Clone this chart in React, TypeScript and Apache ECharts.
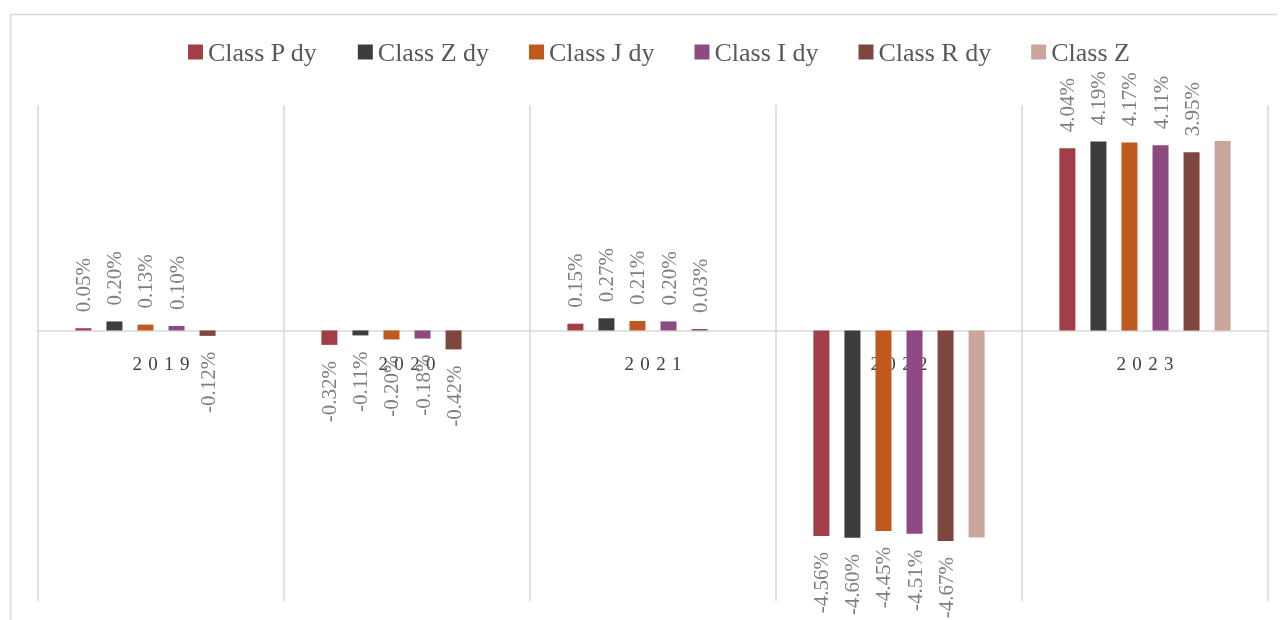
import React, { useEffect, useRef } from 'react';
import * as echarts from 'echarts';

const years = ['2019', '2020', '2021', '2022', '2023'];
const seriesNames = ['Class P dy', 'Class Z dy', 'Class J dy', 'Class I dy', 'Class R dy', 'Class Z'];
const classPdy = [0.05, -0.32, 0.15, -4.56, 4.04];
const classZdy = [0.2, -0.11, 0.27, -4.6, 4.19];
const classJdy = [0.13, -0.2, 0.21, -4.45, 4.17];
const classIdy = [0.1, -0.18, 0.2, -4.51, 4.11];
const classRdy = [-0.12, -0.42, 0.03, -4.67, 3.95];
const classZ: (number | null)[] = [null, null, null, -4.59, 4.2];
const showLabels = [true, true, true, true, true, false];

const colors = ['#A23E48', '#3D3D3D', '#BE5A1D', '#8C4A80', '#7E463E', '#C9A59C'];
const FONT = "'Liberation Serif', 'DejaVu Serif', serif";

const Y_MIN = -6;
const Y_MAX = 5;
const GRID_TOP = 97;
const GRID_BOTTOM = 19;
const H = 612;

export default function App() {
  const ref = useRef<HTMLDivElement>(null);
  useEffect(() => {
    if (!ref.current) return;
    const chart = echarts.init(ref.current, undefined, { renderer: 'svg' });
    const all = [classPdy, classZdy, classJdy, classIdy, classRdy, classZ];
    const gridH = H - GRID_TOP - GRID_BOTTOM;
    const zeroFromBottom = (gridH * (0 - Y_MIN)) / (Y_MAX - Y_MIN);
    const series = all.map((vals, i) => ({
      name: seriesNames[i],
      type: 'bar',
      barWidth: 16,
      barGap: '94%',
      itemStyle: { color: colors[i] },
      data: vals.map((v) =>
        v === null
          ? null
          : {
              value: v,
              label: {
                show: showLabels[i],
                position: v >= 0 ? 'top' : 'bottom',
                align: v >= 0 ? 'left' : 'right',
                verticalAlign: 'middle',
                rotate: 90,
                distance: 16,
                fontFamily: FONT,
                fontSize: 21,
                color: '#7f7f7f',
                formatter: (p: any) => Number(p.value).toFixed(2) + '%',
              },
            }
      ),
    }));
    chart.setOption({
      animation: false,
      color: colors,
      graphic: [
        {
          type: 'rect',
          left: 0,
          top: 4,
          shape: { width: 1400, height: 700 },
          style: { fill: 'none', stroke: '#d9d9d9', lineWidth: 1.5 },
          z: -10,
        },
      ],
      legend: {
        top: 31,
        left: 180,
        padding: 0,
        itemWidth: 15,
        itemHeight: 15,
        itemGap: 40,
        icon: 'rect',
        data: seriesNames,
        textStyle: { fontFamily: FONT, fontSize: 26, color: '#595959' },
      },
      grid: {
        left: 30,
        right: 9,
        top: GRID_TOP,
        bottom: GRID_BOTTOM,
        containLabel: false,
        outerBoundsMode: 'none',
      },
      xAxis: {
        type: 'category',
        data: years,
        offset: -zeroFromBottom,
        axisLine: { onZero: false, lineStyle: { color: '#d9d9d9', width: 1.5 } },
        axisTick: { show: false },
        splitLine: { show: true, lineStyle: { color: '#d9d9d9', width: 1.5 } },
        axisLabel: {
          margin: 24,
          fontFamily: FONT,
          fontSize: 19,
          color: '#404040',
          formatter: (v: string) => v.split('').join('\u2004'),
        },
      },
      yAxis: {
        type: 'value',
        min: Y_MIN,
        max: Y_MAX,
        show: false,
        splitLine: { show: false },
      },
      series,
    });
    return () => chart.dispose();
  }, []);
  return (
    <div
      ref={ref}
      style={{ position: 'fixed', left: 8, top: 8, width: 1269, height: H }}
    />
  );
}
